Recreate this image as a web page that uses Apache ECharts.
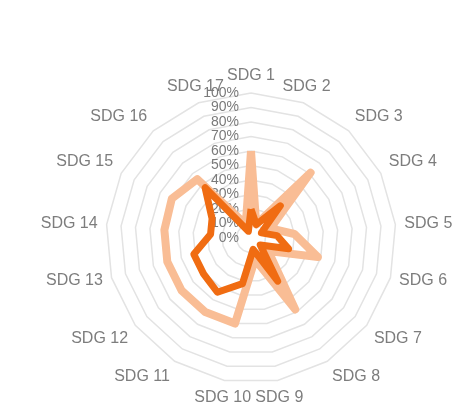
<!DOCTYPE html>
<html>
<head>
<meta charset="utf-8">
<script src="https://cdn.jsdelivr.net/npm/echarts@6/dist/echarts.min.js"></script>
<style>
  html, body { margin: 0; padding: 0; background: #fff; }
  #chart { width: 471px; height: 405px; }
</style>
</head>
<body>
<div id="chart"></div>
<script>
// SDG categories, clockwise from the top
const categories = ['SDG 1', 'SDG 2', 'SDG 3', 'SDG 4', 'SDG 5', 'SDG 6', 'SDG 7', 'SDG 8', 'SDG 9',
  'SDG 10', 'SDG 11', 'SDG 12', 'SDG 13', 'SDG 14', 'SDG 15', 'SDG 16', 'SDG 17']
// light series (peach)
const lightValues = [60, 10, 61, 15, 30, 48, 15, 58, 15, 60, 60, 60, 60, 60, 61, 55, 10]
// dark series (orange)
const darkValues = [20, 10, 30, 8, 18, 27, 8, 35, 8, 32, 44, 41, 41, 28, 30, 47, 5]

const chart = echarts.init(document.getElementById('chart'))

// echarts radar runs counter-clockwise, so keep SDG 1 first and walk the rest backwards
const order = [0]
for (let i = categories.length - 1; i > 0; i--) order.push(i)

const indicator = order.map(function (idx, i) {
  const ind = { name: categories[idx], min: 0, max: 100 }
  // label anchoring like the original: centred near top/bottom, hanging off the ring elsewhere
  const ang = (90 + i * 360 / categories.length) * Math.PI / 180
  const c = Math.cos(ang)
  const s = Math.sin(ang)
  ind.nameTextStyle = {
    align: Math.abs(c) < 0.4 ? 'center' : (c > 0 ? 'left' : 'right'),
    verticalAlign: s > 0.3 ? 'bottom' : (s < -0.3 ? 'top' : 'middle')
  }
  if (i === 0) {
    // only the first axis carries the percentage labels
    ind.axisLabel = { show: true }
  }
  return ind
})
const pick = function (arr) { return order.map(function (idx) { return arr[idx] }) }

chart.setOption({
  animation: false,
  radar: {
    center: [251, 238],
    radius: 145,
    startAngle: 90,
    shape: 'polygon',
    splitNumber: 10,
    indicator: indicator,
    axisName: {
      color: '#7d7d7d',
      fontSize: 16,
      fontFamily: 'Liberation Sans, Arial, sans-serif'
    },
    axisNameGap: 9,
    axisLine: { show: false },
    axisTick: { show: false },
    axisLabel: {
      show: false,
      color: '#7a7a7a',
      fontSize: 14,
      fontFamily: 'Liberation Sans, Arial, sans-serif',
      formatter: '{value}%',
      align: 'right',
      margin: 12
    },
    splitLine: {
      lineStyle: { color: '#e3e3e3', width: 1.5 }
    },
    splitArea: { show: false }
  },
  series: [{
    type: 'radar',
    symbol: 'none',
    data: [
      {
        value: pick(lightValues),
        name: 'light',
        lineStyle: { color: '#f9bd95', width: 8 }
      },
      {
        value: pick(darkValues),
        name: 'dark',
        lineStyle: { color: '#f06c12', width: 7 }
      }
    ]
  }]
})
</script>
</body>
</html>
